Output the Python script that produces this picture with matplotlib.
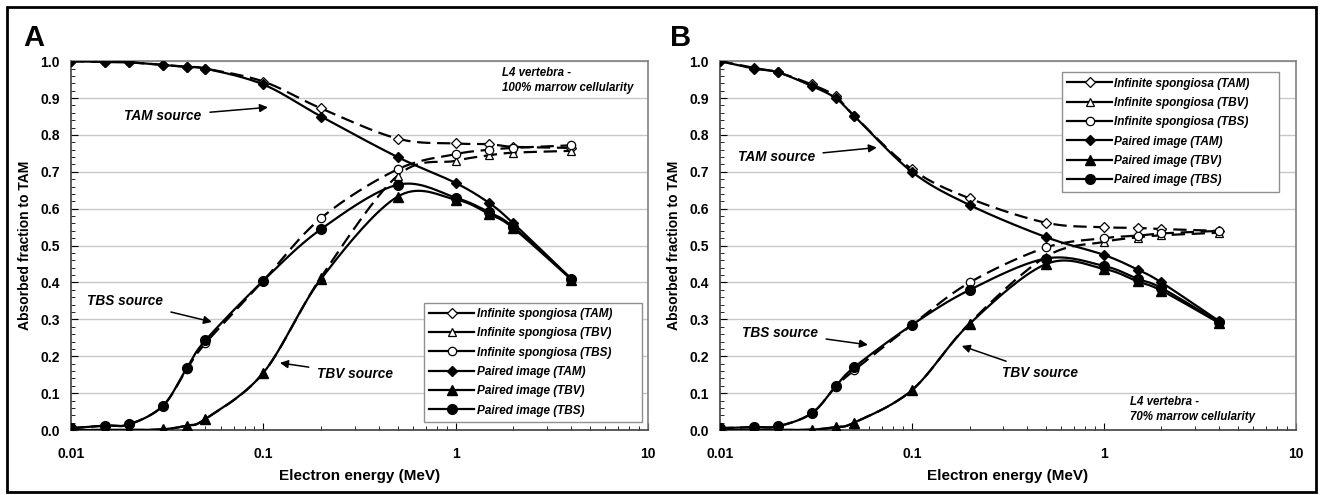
import numpy as np
import matplotlib.pyplot as plt
from matplotlib.lines import Line2D
from matplotlib.patches import Rectangle
from matplotlib.ticker import FixedLocator, MultipleLocator, NullFormatter

plt.rcParams['font.family'] = ['Liberation Sans', 'DejaVu Sans']

energy = [0.01, 0.015, 0.02, 0.03, 0.04, 0.05, 0.1, 0.2, 0.5, 1, 1.5, 2, 4]

# panel A - 100% cellularity
a_inf_tam = [1.0, 0.998, 0.997, 0.99, 0.985, 0.98, 0.945, 0.872, 0.79, 0.777, 0.775, 0.768, 0.765]
a_inf_tbv = [0.0, 0.0, 0.0, 0.002, 0.012, 0.03, 0.155, 0.415, 0.69, 0.73, 0.745, 0.752, 0.757]
a_inf_tbs = [0.005, 0.012, 0.015, 0.065, 0.165, 0.235, 0.405, 0.575, 0.707, 0.748, 0.76, 0.765, 0.772]
a_pi_tam = [1.0, 0.998, 0.997, 0.99, 0.984, 0.98, 0.937, 0.85, 0.74, 0.67, 0.615, 0.56, 0.41]
a_pi_tbv = [0.0, 0.0, 0.0, 0.002, 0.012, 0.03, 0.155, 0.41, 0.633, 0.625, 0.585, 0.547, 0.408]
a_pi_tbs = [0.005, 0.012, 0.015, 0.065, 0.168, 0.243, 0.405, 0.545, 0.665, 0.63, 0.59, 0.55, 0.41]

# panel B - 70% cellularity
b_inf_tam = [1.0, 0.982, 0.97, 0.937, 0.905, 0.852, 0.707, 0.628, 0.562, 0.55, 0.548, 0.545, 0.54]
b_inf_tbv = [0.0, 0.0, 0.0, 0.001, 0.008, 0.02, 0.108, 0.29, 0.47, 0.51, 0.522, 0.528, 0.535]
b_inf_tbs = [0.005, 0.008, 0.01, 0.045, 0.117, 0.162, 0.285, 0.4, 0.495, 0.52, 0.527, 0.533, 0.54]
b_pi_tam = [1.0, 0.98, 0.97, 0.933, 0.9, 0.852, 0.7, 0.61, 0.523, 0.475, 0.435, 0.4, 0.295]
b_pi_tbv = [0.0, 0.0, 0.0, 0.001, 0.008, 0.02, 0.108, 0.288, 0.45, 0.437, 0.403, 0.378, 0.29]
b_pi_tbs = [0.005, 0.008, 0.01, 0.045, 0.118, 0.17, 0.285, 0.38, 0.465, 0.445, 0.41, 0.385, 0.292]

labels = ['Infinite spongiosa (TAM)', 'Infinite spongiosa (TBV)', 'Infinite spongiosa (TBS)',
          'Paired image (TAM)', 'Paired image (TBV)', 'Paired image (TBS)']
markers = ['D', '^', 'o']


def smooth(x, y, n=20):
    # Excel-style smoothed line (bezier through the points, log-x space)
    lx = np.log10(np.asarray(x, float))
    y = np.asarray(y, float)
    px = np.concatenate([[lx[0]], lx, [lx[-1]]])
    py = np.concatenate([[y[0]], y, [y[-1]]])
    xs, ys = [], []
    for i in range(1, len(px) - 2):
        p0 = np.array([px[i], py[i]])
        p3 = np.array([px[i + 1], py[i + 1]])
        c1 = p0 + (np.array([px[i + 1], py[i + 1]]) - np.array([px[i - 1], py[i - 1]])) / 6
        c2 = p3 - (np.array([px[i + 2], py[i + 2]]) - np.array([px[i], py[i]])) / 6
        t = np.linspace(0, 1, n)[:, None]
        b = (1 - t) ** 3 * p0 + 3 * (1 - t) ** 2 * t * c1 + 3 * (1 - t) * t ** 2 * c2 + t ** 3 * p3
        xs.extend(b[:, 0])
        ys.extend(b[:, 1])
    return 10 ** np.array(xs), np.array(ys)


def panel(ax, inf, pi):
    for yv, m in zip(inf, markers):
        sx, sy = smooth(energy, yv)
        ax.plot(sx, sy, color='black', lw=1.6, ls=(0, (6, 3)), zorder=3)
        ax.plot(energy, yv, ls='none', marker=m, ms=6 if m != 'D' else 5,
                mfc='white', mec='black', mew=0.9, zorder=4)
    for yv, m in zip(pi, markers):
        sx, sy = smooth(energy, yv)
        ax.plot(sx, sy, color='black', lw=1.6, zorder=5)
        ax.plot(energy, yv, ls='none', marker=m, ms=7 if m != 'D' else 5.5,
                mfc='black', mec='black', zorder=6)
    ax.set_xscale('log')
    ax.set_xlim(0.01, 10)
    ax.set_ylim(0, 1.0)
    ax.yaxis.set_major_locator(MultipleLocator(0.1))
    ax.yaxis.set_minor_locator(MultipleLocator(0.02))
    ax.yaxis.set_major_formatter(plt.FormatStrFormatter('%.1f'))
    ax.xaxis.set_major_locator(FixedLocator([0.01, 0.1, 1, 10]))
    ax.set_xticklabels(['0.01', '0.1', '1', '10'])
    ax.xaxis.set_minor_formatter(NullFormatter())
    ax.grid(axis='y', color='#c8c8c8', lw=1.0, zorder=0)
    ax.tick_params(which='both', direction='in', labelsize=10)
    ax.tick_params(which='major', length=5)
    ax.tick_params(which='minor', length=3)
    ax.tick_params(axis='x', pad=12)
    ax.tick_params(axis='y', pad=8)
    for lab in ax.get_xticklabels() + ax.get_yticklabels():
        lab.set_fontweight('bold')
    for s in ['top', 'right']:
        ax.spines[s].set_color('#808080')
    for s in ['left', 'bottom']:
        ax.spines[s].set_color('#404040')
    for s in ax.spines.values():
        s.set_linewidth(1.2)
    ax.set_xlabel('Electron energy (MeV)', fontweight='bold', fontsize=11, labelpad=6)
    ax.set_ylabel('Absorbed fraction to TAM', fontweight='bold', fontsize=10, labelpad=6)


def legend(ax, **kw):
    handles = []
    for m in markers:
        handles.append(Line2D([], [], color='black', lw=1.6, marker=m, ms=6 if m != 'D' else 5,
                              mfc='white', mec='black', mew=0.9))
    for m in markers:
        handles.append(Line2D([], [], color='black', lw=1.6, marker=m, ms=7 if m != 'D' else 5.5,
                              mfc='black', mec='black'))
    leg = ax.legend(handles, labels, fancybox=False, edgecolor='#909090', framealpha=1,
                    prop={'weight': 'bold', 'style': 'italic', 'size': 8.5},
                    handlelength=3.8, handletextpad=0.2, labelspacing=0.62,
                    borderpad=0.45, borderaxespad=0, mode='expand', **kw)
    leg.get_frame().set_linewidth(1.0)
    leg.set_zorder(10)


ann = dict(fontsize=9.8, fontweight='bold', style='italic', ha='center', va='center')
arrow = dict(arrowstyle='-|>', color='black', lw=1.1, mutation_scale=12, shrinkA=4, shrinkB=0)
note = dict(fontsize=8.3, fontweight='bold', style='italic', ha='left', va='top', linespacing=1.35)

fig = plt.figure(figsize=(13.2, 4.95), dpi=100)
axA = fig.add_axes([0.0538, 0.1313, 0.437, 0.745])
axB = fig.add_axes([0.5455, 0.1313, 0.436, 0.745])

panel(axA, [a_inf_tam, a_inf_tbv, a_inf_tbs], [a_pi_tam, a_pi_tbv, a_pi_tbs])
legend(axA, loc='lower left', bbox_to_anchor=(0.612, 0.022, 0.378, 0.317))
axA.annotate('TAM source', xy=(0.1058, 0.875), xytext=(0.0301, 0.851), arrowprops=arrow, **ann)
axA.annotate('TBS source', xy=(0.0541, 0.293), xytext=(0.0191, 0.35), arrowprops=arrow, **ann)
axA.annotate('TBV source', xy=(0.122, 0.182), xytext=(0.30, 0.152), arrowprops=arrow, **ann)
axA.text(1.74, 0.985, 'L4 vertebra -\n100% marrow cellularity', **note)

panel(axB, [b_inf_tam, b_inf_tbv, b_inf_tbs], [b_pi_tam, b_pi_tbv, b_pi_tbs])
legend(axB, loc='upper left', bbox_to_anchor=(0.594, 0.652, 0.378, 0.318))
axB.annotate('TAM source', xy=(0.0657, 0.766), xytext=(0.0196, 0.739), arrowprops=arrow, **ann)
axB.annotate('TBS source', xy=(0.059, 0.231), xytext=(0.0205, 0.264), arrowprops=arrow, **ann)
axB.annotate('TBV source', xy=(0.182, 0.228), xytext=(0.464, 0.155), arrowprops=arrow, **ann)
axB.text(1.365, 0.092, 'L4 vertebra -\n70% marrow cellularity', **note)

fig.text(0.0174, 0.907, 'A', fontsize=21, fontweight='bold', va='baseline', ha='left')
fig.text(0.5076, 0.907, 'B', fontsize=21, fontweight='bold', va='baseline', ha='left')

fig.patches.append(Rectangle((0.005, 0.006), 0.992, 0.980, transform=fig.transFigure,
                             fill=False, edgecolor='black', lw=2))

fig.savefig('out.png', dpi=100)
